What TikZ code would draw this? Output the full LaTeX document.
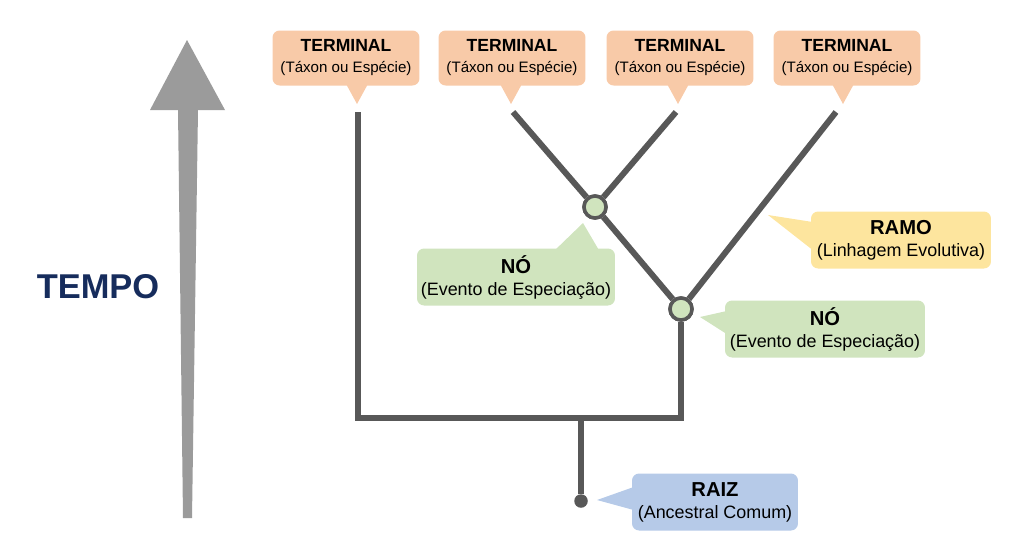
\documentclass[tikz,border=0pt]{standalone}
\usepackage{fontspec}
\setmainfont{Liberation Sans}
\usetikzlibrary{shapes,positioning,calc}
\definecolor{laranja}{RGB}{248,202,168}
\definecolor{verdeclaro}{RGB}{208,228,190}
\definecolor{amarelo}{RGB}{253,229,158}
\definecolor{azul}{RGB}{182,202,232}
\definecolor{cinzalinha}{RGB}{88,88,88}
\definecolor{cinzaseta}{RGB}{155,155,155}
\definecolor{marinho}{RGB}{22,44,92}
\newcommand{\titulo}[2]{{\bfseries\fontsize{#1}{12}\selectfont #2}}
\tikzstyle{caixa} = [rounded corners=4pt, inner sep=2pt, align=center]
\tikzstyle{terminal} = [caixa, fill=laranja, minimum width=2.94cm, minimum height=1.1cm, text depth=2pt, font=\fontsize{8.6}{12}\selectfont]
\tikzstyle{rotulo} = [caixa, minimum height=1.14cm, text depth=2pt, font=\fontsize{10.2}{12.5}\selectfont]
\tikzstyle{vertice} = [circle, draw=cinzalinha, line width=2pt, fill=verdeclaro, minimum size=0.44cm, inner sep=0pt]
\tikzstyle{galho} = [draw=cinzalinha, line width=3.4pt]

\begin{document}
\begin{tikzpicture}[x=0.02cm, y=-0.02cm]
    \useasboundingbox (0,0) rectangle (1024,559);
    % seta do tempo
    \fill[cinzaseta] (187,40) -- (225,110) -- (198,110) -- (192,518) -- (183,518) -- (178,110) -- (150,110) -- cycle;
    \node[font=\fontsize{19.6}{22}\selectfont\bfseries, text=marinho] (tempo) at (98,287) {TEMPO};

    % terminais
    \node[terminal] (t1) at (346,58) {\titulo{10}{TERMINAL}\\(Táxon ou Espécie)};
    \node[terminal] (t2) at (512,58) {\titulo{10}{TERMINAL}\\(Táxon ou Espécie)};
    \node[terminal] (t3) at (680,58) {\titulo{10}{TERMINAL}\\(Táxon ou Espécie)};
    \node[terminal] (t4) at (847,58) {\titulo{10}{TERMINAL}\\(Táxon ou Espécie)};
    \coordinate (p1) at (357,104); \coordinate (p2) at (511,104);
    \coordinate (p3) at (678,104); \coordinate (p4) at (843,104);
    \foreach \t/\p in {t1/p1, t2/p2, t3/p3, t4/p4}
        \fill[laranja] ($(\p|-\t.south)+(-11,-2)$) -- (\p) -- ($(\p|-\t.south)+(11,-2)$) -- cycle;

    % arvore
    \coordinate (c1) at (358,112); \coordinate (c2) at (513,112);
    \coordinate (c3) at (676,112); \coordinate (c4) at (836,112);
    \coordinate (base) at (581,418);
    \node[vertice] (n1) at (595,207) {};
    \node[vertice] (n2) at (681,309) {};
    \node[circle, fill=cinzalinha, minimum size=0.27cm, inner sep=0pt] (raiz) at (581,501) {};
    \draw[galho] (c1) |- (base) -| (n2);
    \draw[galho] (base) -- (raiz);
    \draw[galho] (c2) -- (n1); \draw[galho] (n1) -- (n2);
    \draw[galho] (c3) -- (n1);
    \draw[galho] (c4) -- (n2);
    \node[vertice] at (n1) {};
    \node[vertice] at (n2) {};

    % rotulos
    \node[rotulo, fill=verdeclaro, minimum width=3.96cm] (no1) at (516,277) {\titulo{11.5}{NÓ}\\(Evento de Especiação)};
    \node[rotulo, fill=verdeclaro, minimum width=4cm] (no2) at (825,329) {\titulo{11.5}{NÓ}\\(Evento de Especiação)};
    \node[rotulo, fill=amarelo, minimum width=3.6cm] (ramo) at (901,240) {\titulo{11.5}{RAMO}\\(Linhagem Evolutiva)};
    \node[rotulo, fill=azul, minimum width=3.32cm] (anc) at (715,502) {\titulo{11.5}{RAIZ}\\(Ancestral Comum)};
    \coordinate (q1) at (583,223); \coordinate (q2) at (700,317);
    \coordinate (q3) at (768,215); \coordinate (q4) at (597,500);
    \fill[verdeclaro] (553,252) -- (q1) -- (600,252) -- cycle;
    \fill[verdeclaro] ($(no2.west)+(2,-18)$) -- (q2) -- ($(no2.west)+(2,5)$) -- cycle;
    \fill[amarelo] ($(ramo.west)+(2,-18)$) -- (q3) -- ($(ramo.west)+(2,10)$) -- cycle;
    \fill[azul] ($(anc.west)+(2,-15)$) -- (q4) -- ($(anc.west)+(2,8)$) -- cycle;
\end{tikzpicture}
\end{document}
